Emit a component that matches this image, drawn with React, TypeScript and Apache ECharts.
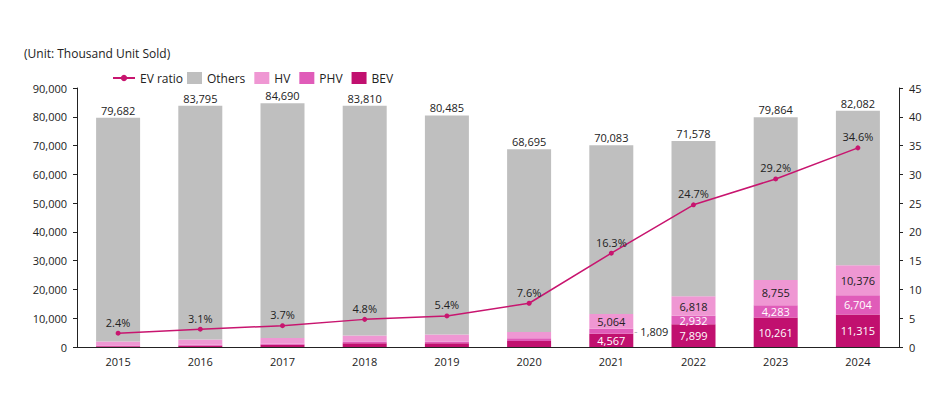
import React, { useEffect, useRef } from "react";
import * as echarts from "echarts";

const years = ["2015", "2016", "2017", "2018", "2019", "2020", "2021", "2022", "2023", "2024"];
const totals = [79682, 83795, 84690, 83810, 80485, 68695, 70083, 71578, 79864, 82082];
const bev = [250, 450, 750, 1300, 1300, 2100, 4567, 7899, 10261, 11315];
const phv = [300, 300, 400, 600, 500, 900, 1809, 2932, 4283, 6704];
const hv = [1362, 1850, 1984, 2120, 2546, 2221, 5064, 6818, 8755, 10376];
const evRatio = [2.4, 3.1, 3.7, 4.8, 5.4, 7.6, 16.3, 24.7, 29.2, 34.6];
const leftTicks = [0, 90000, 10000];
const rightTicks = [0, 45, 5];

const FONT = "Open Sans";
const C_OTHERS = "#bfbfbf";
const C_HV = "#ef97d3";
const C_PHV = "#e05cb9";
const C_BEV = "#c1106f";
const C_LINE = "#c8156f";

const fmt = (v: number) => v.toLocaleString("en-US");

export default function App() {
  const ref = useRef<HTMLDivElement>(null);
  useEffect(() => {
    if (!ref.current) return;
    const chart = echarts.init(ref.current, undefined, { renderer: "svg" });
    const others = totals.map((t, i) => t - bev[i] - phv[i] - hv[i]);
    const segLabel = (color: string) => ({
      show: true,
      position: "inside" as const,
      color,
      fontFamily: FONT,
      fontSize: 11,
      lineHeight: 10,
      formatter: (p: any) => (p.dataIndex >= 6 ? fmt(p.value) : ""),
    });
    const legendText = { fontFamily: FONT, fontSize: 12, color: "#222" };
    chart.setOption({
      animation: false,
      textStyle: { fontFamily: FONT },
      graphic: [
        {
          type: "text",
          left: 24,
          top: 47,
          style: { text: "(Unit: Thousand Unit Sold)", fontFamily: FONT, fontSize: 12, fill: "#222" },
        },
      ],
      legend: [
        {
          left: 107,
          top: 67,
          itemWidth: 22,
          itemHeight: 8,
          textStyle: legendText,
          data: ["EV ratio"],
        },
        {
          left: 182,
          top: 67,
          itemWidth: 15,
          itemHeight: 12,
          itemGap: 9,
          textStyle: legendText,
          data: [
            { name: "Others", icon: "rect" },
            { name: "HV", icon: "rect" },
            { name: "PHV", icon: "rect" },
            { name: "BEV", icon: "rect" },
          ],
        },
      ],
      grid: { left: 77, right: 47, top: 88, bottom: 49 },
      xAxis: {
        type: "category",
        data: years,
        axisLine: { lineStyle: { color: "#222", width: 1 } },
        axisTick: { show: false },
        axisLabel: { color: "#222", fontFamily: FONT, fontSize: 11, margin: 9 },
      },
      yAxis: [
        {
          type: "value",
          min: leftTicks[0],
          max: leftTicks[1],
          interval: leftTicks[2],
          axisLine: { show: true, lineStyle: { color: "#222" } },
          axisTick: { show: true, inside: false, length: 4, lineStyle: { color: "#222" } },
          splitLine: { show: false },
          axisLabel: { color: "#222", fontFamily: FONT, fontSize: 11, margin: 10, formatter: (v: number) => fmt(v) },
        },
        {
          type: "value",
          min: rightTicks[0],
          max: rightTicks[1],
          interval: rightTicks[2],
          position: "right",
          axisLine: { show: true, lineStyle: { color: "#222" } },
          axisTick: { show: true, inside: false, length: 4, lineStyle: { color: "#222" } },
          splitLine: { show: false },
          axisLabel: { color: "#222", fontFamily: FONT, fontSize: 11, margin: 10 },
        },
      ],
      series: [
        {
          name: "BEV",
          type: "bar",
          stack: "s",
          barWidth: 44,
          itemStyle: { color: C_BEV },
          label: segLabel("#fff"),
          data: bev,
          z: 2,
        },
        {
          name: "PHV",
          type: "bar",
          stack: "s",
          barWidth: 44,
          itemStyle: { color: C_PHV },
          label: segLabel("#fff"),
          data: phv.map((v, i) =>
            i === 6
              ? {
                  value: v,
                  label: {
                    show: true,
                    position: "right",
                    distance: 1,
                    color: "#222",
                    formatter: "{d|-} " + fmt(v),
                    rich: { d: { color: "#aaa", fontSize: 10, fontFamily: FONT } },
                  },
                }
              : v
          ),
          z: 2,
        },
        {
          name: "HV",
          type: "bar",
          stack: "s",
          barWidth: 44,
          itemStyle: { color: C_HV },
          label: segLabel("#222"),
          data: hv,
          z: 2,
        },
        {
          name: "Others",
          type: "bar",
          stack: "s",
          barWidth: 44,
          itemStyle: { color: C_OTHERS },
          label: {
            show: true,
            position: "top",
            distance: 2,
            color: "#222",
            fontFamily: FONT,
            fontSize: 11,
            formatter: (p: any) => fmt(totals[p.dataIndex]),
          },
          data: others,
          z: 2,
        },
        {
          name: "EV ratio",
          type: "line",
          yAxisIndex: 1,
          data: evRatio,
          symbol: "circle",
          symbolSize: 5,
          lineStyle: { color: C_LINE, width: 1.5 },
          itemStyle: { color: C_LINE },
          label: {
            show: true,
            position: "top",
            distance: 3,
            color: "#222",
            fontFamily: FONT,
            fontSize: 11,
            formatter: (p: any) => p.value.toFixed(1) + "%",
          },
          z: 5,
        },
      ],
    });
    return () => chart.dispose();
  }, []);
  return <div ref={ref} style={{ position: "absolute", left: 0, top: 0, width: 946, height: 396 }} />;
}
